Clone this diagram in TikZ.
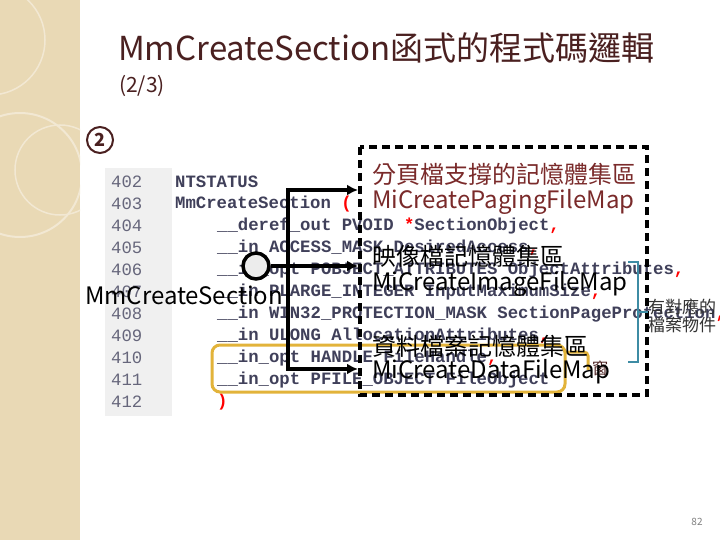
\documentclass[tikz,border=0pt]{standalone}
\usepackage{fontspec}
\setmainfont{Noto Sans CJK TC}
\newfontfamily\codefont{Liberation Mono}
\usetikzlibrary{arrows.meta,decorations.pathreplacing}
\definecolor{titlec}{HTML}{4A2020}
\definecolor{redc}{HTML}{7A2A2A}
\definecolor{codec}{HTML}{40405A}
\definecolor{beige}{HTML}{E9D9B5}
\definecolor{gold}{HTML}{E2B33A}
\definecolor{teal}{HTML}{3E8CA4}
\tikzset{
 code/.style={anchor=west,inner sep=0,font=\codefont\bfseries\fontsize{17.3}{17}\selectfont,text=codec},
 num/.style={anchor=west,inner sep=0,font=\codefont\fontsize{17.3}{17}\selectfont,text=codec!80},
 lbl/.style={anchor=west,inner sep=0,font=\fontsize{24}{24}\selectfont},
 conn/.style={line width=3.5pt,-{Latex[length=11pt,width=11pt]}},
}
\begin{document}
\begin{tikzpicture}[x=1pt,y=-1pt]
\useasboundingbox (0,0) rectangle (720,540);
\fill[white] (0,0) rectangle (720,540);
% sidebar
\fill[beige] (0,0) rectangle (80,540);
\begin{scope}
\clip (0,0) rectangle (80,540);
\draw[white!40!beige,line width=2pt] (20,175) circle (62);
\draw[white!40!beige,line width=1.5pt] (60,170) circle (45);
\draw[white!40!beige,line width=1.5pt] (-10,40) circle (55);
\end{scope}
% title
\node[anchor=west,inner sep=0,text=titlec,font=\fontsize{33}{33}\selectfont] (title) at (118,48) {MmCreateSection函式的程式碼邏輯};
\node[anchor=west,inner sep=0,text=titlec,font=\fontsize{21}{21}\selectfont] (sub) at (119,86) {(2/3)};
\node[circle,draw=titlec,line width=2pt,inner sep=1pt,minimum size=26pt,text=titlec,font=\bfseries\fontsize{18}{18}\selectfont] (num2) at (100,140) {2};
% code panel
\fill[gray!12] (105,168) rectangle (172,416);
\foreach \n [count=\i from 0] in {402,...,412}
  \node[num] (n\n) at (111,182+22*\i) {\n};
\node[code] (c402) at (175,182) {NTSTATUS};
\node[code] (c403) at (175,204) {MmCreateSection \textcolor{red}{(}};
\node[code] (c404) at (217,226) {\_\_deref\_out PVOID \textcolor{red}{*}SectionObject\textcolor{red}{,}};
\node[code] (c405) at (217,248) {\_\_in ACCESS\_MASK DesiredAccess\textcolor{red}{,}};
\node[code] (c406) at (217,270) {\_\_in\_opt POBJECT\_ATTRIBUTES ObjectAttributes\textcolor{red}{,}};
\node[code] (c407) at (217,292) {\_\_in PLARGE\_INTEGER InputMaximumSize\textcolor{red}{,}};
\node[code] (c408) at (217,314) {\_\_in WIN32\_PROTECTION\_MASK SectionPageProtection\textcolor{red}{,}};
\node[code] (c409) at (217,336) {\_\_in ULONG AllocationAttributes\textcolor{red}{,}};
\node[code] (c410) at (217,358) {\_\_in\_opt HANDLE FileHandle\textcolor{red}{,}};
\node[code] (c411) at (217,380) {\_\_in\_opt PFILE\_OBJECT FileObject};
\node[code] (c412) at (217,402) {\textcolor{red}{)}};
% yellow highlight
\draw[gold,line width=3pt,rounded corners=8pt] (212,345) rectangle (565,392);
\draw[gold,line width=3pt,rounded corners=4pt] (565,352) -- (588,352) -- (588,370);
\node[inner sep=0,text=titlec,font=\fontsize{16}{16}\selectfont] (win) at (600,368) {窗};
% dashed box
\draw[line width=3.5pt,dash pattern=on 8pt off 5pt] (360,147) rectangle (647,395);
% labels
\node[lbl,text=redc] (p1) at (372,174) {分頁檔支撐的記憶體集區};
\node[lbl,text=redc] (p2) at (372,202) {MiCreatePagingFileMap};
\node[lbl] (i1) at (372,256) {映像檔記憶體集區};
\node[lbl] (i2) at (372,284) {MiCreateImageFileMap};
\node[lbl] (d1) at (372,346) {資料檔案記憶體集區};
\node[lbl] (d2) at (372,372) {MiCreateDataFileMap};
% brace
\draw[teal,line width=2.5pt] (628,262) -- (638,262) -- (638,362) -- (628,362);
\draw[teal,line width=2.5pt] (638,312) -- (648,312);
\node[anchor=west,inner sep=0,align=left,text=gray!40!black,font=\fontsize{17}{18}\selectfont] (fo) at (648,316) {有對應的\\檔案物件};
% connectors
\node[circle,draw,line width=3.5pt,fill=gray!15,minimum size=26pt,inner sep=0] (hub) at (256,266) {};
\coordinate (a1) at (358,190);
\coordinate (a2) at (358,266);
\coordinate (a3) at (358,369);
\draw[conn] (hub.east) -| (288,190) -- (a1);
\draw[conn] (hub.east) -- (a2);
\draw[conn] (hub.east) -| (288,369) -- (a3);
\node[inner sep=0,font=\fontsize{24}{24}\selectfont] (mm) at (184,295) {MmCreateSection};
\node[inner sep=0,text=gray,font=\fontsize{10}{10}\selectfont] (pg) at (697,522) {82};
\end{tikzpicture}
\end{document}
